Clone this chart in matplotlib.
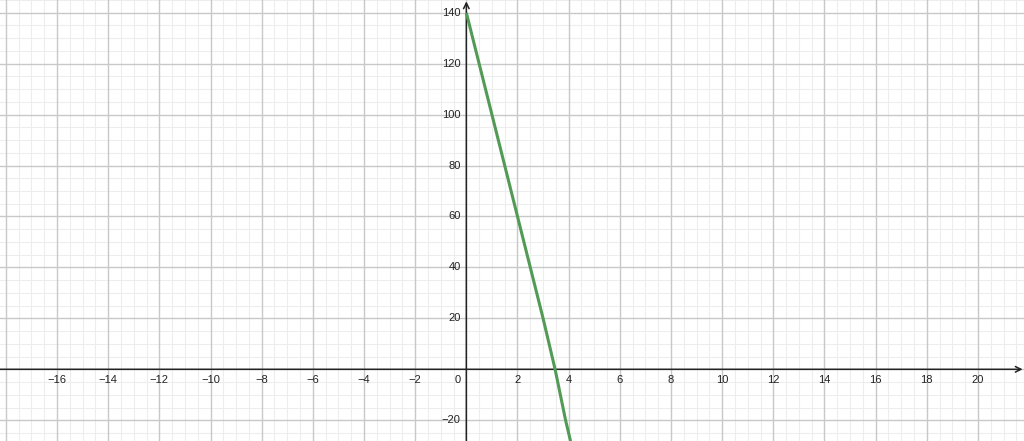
import numpy as np
import matplotlib
matplotlib.use('Agg')
import matplotlib.pyplot as plt

# curve (x, y)
curve_x = [0, 0.5, 1, 1.5, 2, 2.5, 3, 3.47, 3.88, 4.08]
curve_y = [140, 120, 100, 80, 60, 40, 20, 0, -20, -28.5]

x_ticks = [-16, -14, -12, -10, -8, -6, -4, -2, 2, 4, 6, 8, 10, 12, 14, 16, 18, 20]
y_ticks = [-20, 20, 40, 60, 80, 100, 120, 140]

x_min, x_max = -18.23, 21.8
y_min, y_max = -28.15, 145.0

fig = plt.figure(figsize=(10.24, 4.41), dpi=100)
ax = fig.add_axes([0, 0, 1, 1])
ax.set_xlim(x_min, x_max)
ax.set_ylim(y_min, y_max)
ax.axis('off')

# grid
for gx in np.arange(-18, 22.01, 0.5):
    major = abs(gx / 2 - round(gx / 2)) < 1e-9
    ax.axvline(gx, color='#c8c8c8' if major else '#ededed',
               lw=1.0 if major else 0.8, zorder=1 if major else 0)
for gy in np.arange(-25, 145.01, 5):
    major = abs(gy / 20 - round(gy / 20)) < 1e-9
    ax.axhline(gy, color='#c8c8c8' if major else '#ededed',
               lw=1.0 if major else 0.8, zorder=1 if major else 0)

# axes with arrows
ax.annotate('', xy=(x_max, 0), xytext=(x_min, 0),
            arrowprops=dict(arrowstyle='->', color='#222222', lw=1.1,
                            shrinkA=0, shrinkB=1), zorder=3)
ax.annotate('', xy=(0, y_max), xytext=(0, y_min),
            arrowprops=dict(arrowstyle='->', color='#222222', lw=1.1,
                            shrinkA=0, shrinkB=1), zorder=3)

# tick labels
font = dict(family=['Liberation Sans', 'DejaVu Sans'], size=8, color='#222222')
for t in x_ticks:
    ax.text(t, -4.3, f'{t}'.replace('-', '\u2212'), ha='center', va='center',
            zorder=4, **font)
for t in y_ticks:
    ax.text(-0.22, t, f'{t}'.replace('-', '\u2212'), ha='right', va='center',
            zorder=4, **font)
ax.text(-0.22, -4.3, '0', ha='right', va='center', zorder=4, **font)

# curve
ax.plot(curve_x, curve_y, color='#529a56', lw=2.2, solid_capstyle='butt',
        zorder=5)

fig.savefig('out.png', dpi=100)
